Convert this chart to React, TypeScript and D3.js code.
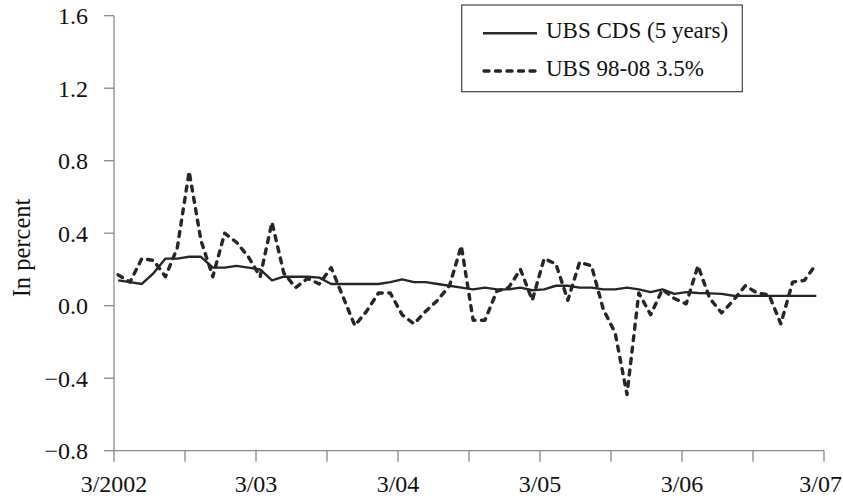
import React from "react";
import * as d3 from "d3";

const cdsValues = [
  0.14, 0.13, 0.12, 0.18, 0.26, 0.26, 0.27, 0.27, 0.21, 0.21,
  0.22, 0.21, 0.20, 0.14, 0.16, 0.16, 0.16, 0.155, 0.12, 0.12,
  0.12, 0.12, 0.12, 0.13, 0.145, 0.13, 0.13, 0.12, 0.11, 0.10,
  0.09, 0.10, 0.09, 0.09, 0.10, 0.085, 0.09, 0.11, 0.11, 0.10,
  0.10, 0.09, 0.09, 0.10, 0.09, 0.075, 0.09, 0.065, 0.075, 0.07,
  0.068, 0.065, 0.055, 0.054, 0.054, 0.054, 0.054, 0.054, 0.054, 0.054,
];

const bondValues = [
  0.17, 0.13, 0.26, 0.25, 0.16, 0.32, 0.74, 0.36, 0.16, 0.40,
  0.35, 0.27, 0.16, 0.46, 0.18, 0.10, 0.15, 0.12, 0.21, 0.05,
  -0.11, -0.03, 0.07, 0.07, -0.05, -0.10, -0.03, 0.03, 0.11, 0.33,
  -0.08, -0.08, 0.08, 0.10, 0.20, 0.03, 0.26, 0.23, 0.03, 0.24,
  0.22, -0.02, -0.15, -0.49, 0.07, -0.05, 0.09, 0.04, 0.01, 0.22,
  0.04, -0.04, 0.03, 0.11, 0.07, 0.06, -0.10, 0.13, 0.14, 0.23,
];

const seriesNames = ["UBS CDS (5 years)", "UBS 98-08 3.5%"];
const yTicks = [-0.8, -0.4, 0.0, 0.4, 0.8, 1.2, 1.6];
const xMinorTicks = [0, 6, 12, 18, 24, 30, 36, 42, 48, 54, 60];
const xLabelTicks = [0, 12, 24, 36, 48, 60];
const xTickLabels = ["3/2002", "3/03", "3/04", "3/05", "3/06", "3/07"];
const yTitle = "In percent";

const W = 843;
const H = 501;
const FONT = "'Liberation Serif', 'Times New Roman', Times, serif";
const INK = "#262626";
const AXIS = "#8a8a8a";

export default function App() {
  const x = d3.scaleLinear().domain([0, 60]).range([114, 824]);
  const y = d3.scaleLinear().domain([-0.8, 1.6]).range([450.7, 15.7]);
  const px = (i: number) => x(i + 0.35);

  const line = d3
    .line<number>()
    .x((_, i) => px(i))
    .y((d) => y(d));

  return (
    <svg
      width={W}
      height={H}
      style={{ position: "absolute", left: 0, top: 0, background: "#fff", fontFamily: FONT }}
    >
      <rect x={0} y={0} width={W} height={H} fill="#fff" />
      {/* Y axis */}
      <line x1={x(0)} x2={x(0)} y1={y(1.6)} y2={y(-0.8)} stroke={AXIS} strokeWidth={1.3} />
      {yTicks.map((t) => (
        <g key={t}>
          <line x1={x(0) - 10} x2={x(0)} y1={y(t)} y2={y(t)} stroke={AXIS} strokeWidth={1.3} />
          <text
            x={88}
            y={y(t)}
            dy="0.36em"
            textAnchor="end"
            fontSize={24}
            fill="#111"
          >
            {t < 0 ? "\u2212" + Math.abs(t).toFixed(1) : t.toFixed(1)}
          </text>
        </g>
      ))}
      {/* X axis */}
      <line x1={x(0)} x2={x(60)} y1={y(-0.8)} y2={y(-0.8)} stroke={AXIS} strokeWidth={1.3} />
      {xMinorTicks.map((t) => (
        <line key={t} x1={x(t)} x2={x(t)} y1={y(-0.8)} y2={y(-0.8) + 11} stroke={AXIS} strokeWidth={1.3} />
      ))}
      {xLabelTicks.map((t, i) => {
        const last = i === xLabelTicks.length - 1;
        return (
          <text
            key={t}
            x={last ? W - 1 : x(t)}
            y={492}
            textAnchor={last ? "end" : "middle"}
            fontSize={24}
            fill="#111"
          >
            {xTickLabels[i]}
          </text>
        );
      })}
      {/* Y title */}
      <text
        transform={`translate(30,248) rotate(-90)`}
        textAnchor="middle"
        fontSize={24.5}
        fill="#111"
      >
        {yTitle}
      </text>
      {/* Series */}
      <path d={line(cdsValues) || ""} fill="none" stroke={INK} strokeWidth={2.4} strokeLinejoin="round" />
      <path
        d={line(bondValues) || ""}
        fill="none"
        stroke={INK}
        strokeWidth={3.4}
        strokeDasharray="5 6.5"
        strokeLinecap="round"
        strokeLinejoin="round"
      />
      {/* Legend */}
      <rect x={461.7} y={5} width={280.6} height={86.7} fill="#fff" stroke="#444" strokeWidth={1.2} />
      <line x1={483} x2={537} y1={33.3} y2={33.3} stroke={INK} strokeWidth={2.6} />
      <line
        x1={484}
        x2={537}
        y1={71}
        y2={71}
        stroke={INK}
        strokeWidth={3.4}
        strokeDasharray="5 6.5"
        strokeLinecap="round"
      />
      <text x={546} y={37.5} fontSize={23} fill="#111">
        {seriesNames[0]}
      </text>
      <text x={546} y={76} fontSize={23} fill="#111">
        {seriesNames[1]}
      </text>
    </svg>
  );
}
